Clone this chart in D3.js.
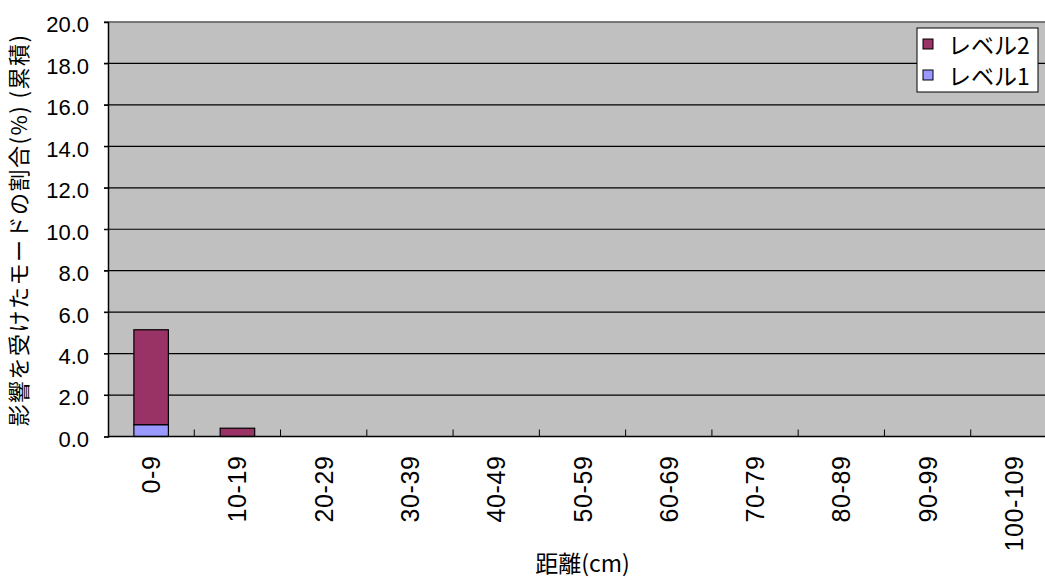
<!DOCTYPE html>
<html>
<head>
<meta charset="utf-8">
<script src="https://cdn.jsdelivr.net/npm/d3@7"></script>
<style>
  html, body { margin: 0; padding: 0; background: #fff; }
  svg { display: block; }
  text { font-family: Arial, "Liberation Sans", "Noto Sans CJK JP", sans-serif; fill: #000; }
  .jp { font-family: "Noto Sans CJK JP", sans-serif; }
</style>
</head>
<body>
<svg id="chart" width="1045" height="580"></svg>
<script>
// Distance bins (cm)
const categories = ["0-9", "10-19", "20-29", "30-39", "40-49", "50-59", "60-69", "70-79", "80-89", "90-99", "100-109"];
// Cumulative share (%) of affected modes, per level
const level1 = [0.57, 0, 0, 0, 0, 0, 0, 0, 0, 0, 0];
const level2 = [4.58, 0.4, 0, 0, 0, 0, 0, 0, 0, 0, 0];
const yTicks = [0, 2, 4, 6, 8, 10, 12, 14, 16, 18, 20];
const seriesNames = ["レベル1", "レベル2"];
const seriesColors = ["#9999FF", "#993366"];

const svg = d3.select("#chart");
const margin = { left: 108, top: 22, plotW: 949, plotH: 414.5 };

const x = d3.scaleBand().domain(categories).range([margin.left, margin.left + margin.plotW]).paddingInner(0.6).paddingOuter(0.3);
const xCat = d3.scaleBand().domain(categories).range([margin.left, margin.left + margin.plotW]);
const y = d3.scaleLinear().domain([0, 20]).range([margin.top + margin.plotH, margin.top]);

// Plot background
svg.append("rect")
  .attr("x", margin.left).attr("y", margin.top)
  .attr("width", margin.plotW).attr("height", margin.plotH)
  .attr("fill", "#C0C0C0");

// Horizontal gridlines
svg.append("g").selectAll("line").data(yTicks.filter(d => d > 0)).join("line")
  .attr("x1", margin.left - 4).attr("x2", margin.left + margin.plotW)
  .attr("y1", d => y(d)).attr("y2", d => y(d))
  .attr("stroke", "#000").attr("stroke-width", 1.2);

// Top border
svg.append("line")
  .attr("x1", margin.left).attr("x2", margin.left + margin.plotW)
  .attr("y1", margin.top).attr("y2", margin.top)
  .attr("stroke", "#808080").attr("stroke-width", 1);

// Stacked bars
const data = categories.map((c, i) => ({ cat: c, v: [level1[i], level2[i]] }));
const stack = d3.stack().keys([0, 1]).value((d, k) => d.v[k]);
const layers = stack(data);
svg.append("g").selectAll("g").data(layers).join("g")
  .attr("fill", (d, i) => seriesColors[i])
  .selectAll("rect").data(d => d.filter(p => p[1] - p[0] > 0)).join("rect")
  .attr("x", d => x(d.data.cat))
  .attr("width", x.bandwidth())
  .attr("y", d => y(d[1]))
  .attr("height", d => y(d[0]) - y(d[1]))
  .attr("stroke", "#000").attr("stroke-width", 1.2);

// Y axis
const yAxis = svg.append("g")
  .attr("transform", `translate(${margin.left},0)`)
  .call(d3.axisLeft(y).tickValues(yTicks).tickFormat(d3.format(".1f")).tickSize(4).tickPadding(15));
yAxis.select(".domain").attr("stroke", "#000").attr("stroke-width", 1.5);
yAxis.selectAll(".tick line").attr("stroke", "#000");
yAxis.selectAll("text")
  .attr("font-size", 22)
  .attr("dy", "0.45em")
  .style("font-family", "Arial, 'Liberation Sans', sans-serif");

// X axis (ticks at category boundaries, drawn upward)
const xAxisG = svg.append("g").attr("transform", `translate(0,${y(0)})`);
xAxisG.append("line")
  .attr("x1", margin.left).attr("x2", margin.left + margin.plotW)
  .attr("stroke", "#000").attr("stroke-width", 1.5);
xAxisG.selectAll(".bt").data(categories.slice(1)).join("line")
  .attr("class", "bt")
  .attr("x1", d => xCat(d)).attr("x2", d => xCat(d))
  .attr("y1", 0).attr("y2", -7)
  .attr("stroke", "#000");
xAxisG.selectAll(".lbl").data(categories).join("text")
  .attr("class", "lbl")
  .attr("transform", d => `translate(${xCat(d) + xCat.bandwidth() / 2 + 9},19) rotate(-90)`)
  .attr("text-anchor", "end")
  .attr("font-size", 25)
  .attr("letter-spacing", 0.6)
  .style("font-family", "Arial, 'Liberation Sans', sans-serif")
  .text(d => d);

// Axis titles
svg.append("text")
  .attr("class", "jp")
  .attr("transform", `translate(27,${230}) rotate(-90)`)
  .attr("text-anchor", "middle")
  .attr("font-size", 22)
  .attr("letter-spacing", 1.5)
  .text("影響を受けたモードの割合(%) (累積)");

svg.append("text")
  .attr("class", "jp")
  .attr("x", margin.left + margin.plotW / 2)
  .attr("y", 572)
  .attr("text-anchor", "middle")
  .attr("font-size", 23)
  .text("距離(cm)");

// Legend
const lg = svg.append("g").attr("transform", "translate(917,28)");
lg.append("rect").attr("width", 121).attr("height", 64)
  .attr("fill", "#fff").attr("stroke", "#000").attr("stroke-width", 1);
const legendItems = [1, 0];
legendItems.forEach((s, i) => {
  const row = lg.append("g").attr("transform", `translate(6,${11 + i * 31})`);
  row.append("rect").attr("width", 10).attr("height", 10)
    .attr("fill", seriesColors[s]).attr("stroke", "#000").attr("stroke-width", 1);
  row.append("text").attr("class", "jp")
    .attr("x", 25).attr("y", 15)
    .attr("font-size", 23)
    .text(seriesNames[s]);
});
</script>
</body>
</html>
